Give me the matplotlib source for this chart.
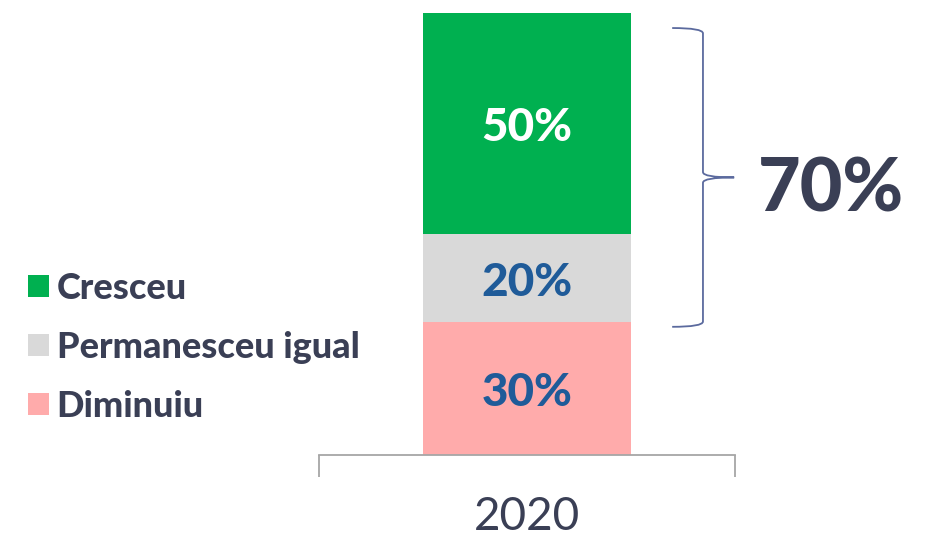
import matplotlib
matplotlib.use("Agg")
import matplotlib.pyplot as plt
from matplotlib.path import Path
from matplotlib.patches import PathPatch
import matplotlib.transforms as mtrans

categories = ["2020"]
series_names = ["Diminuiu", "Permanesceu igual", "Cresceu"]
series_values = [[30], [20], [50]]
colors = ["#ffabab", "#d9d9d9", "#00b050"]
label_colors = ["#1f5b99", "#1f5b99", "#ffffff"]
total_label = "70%"

text_dark = "#3a3f55"
plt.rcParams['font.family'] = ['Lato', 'DejaVu Sans']

fig = plt.figure(figsize=(9.25, 5.37), dpi=100)
ax = fig.add_axes([319/925, 82/537, 416/925, 442/537])

bottom = [0.0] * len(categories)
bars = []
for name, vals, c, lc in zip(series_names, series_values, colors, label_colors):
    b = ax.bar(categories, vals, bottom=bottom, width=0.5, color=c, label=name)
    bars.append(b)
    for i, v in enumerate(vals):
        ax.text(i, bottom[i] + v / 2 - 1.0, f"{v}%", ha="center", va="center",
                fontsize=33, fontweight="black", color=lc)
    bottom = [bt + v for bt, v in zip(bottom, vals)]

ax.set_xlim(-0.5, 0.5)
ax.set_ylim(0, 100)
for s in ["top", "right", "left"]:
    ax.spines[s].set_visible(False)
ax.spines["bottom"].set_color("#a6a6a6")
ax.spines["bottom"].set_linewidth(1.3)
ax.set_yticks([])
ax.set_xticks([-0.5, 0.5])
ax.set_xticklabels([])
ax.tick_params(axis="x", length=16, width=1.3, color="#a6a6a6")
ax.text(0, -14.0, categories[0], ha="center", va="center", fontsize=33,
        fontweight="normal", color=text_dark)

# brace over green + gray
trans = mtrans.blended_transform_factory(ax.transAxes, ax.transData)
y0 = series_values[0][0] - 1.0
y1 = 100 - 3.4
ym = (y0 + y1) / 2
xl, xs, xt = 0.849, 0.923, 0.998
verts = [(xl, y1), (xs, y1), (xs, y1 - 1.2), (xs, ym + 1.2), (xs, ym),
         (xt, ym), (xs, ym), (xs, ym - 1.2), (xs, y0 + 1.2), (xs, y0), (xl, y0)]
codes = [Path.MOVETO, Path.CURVE3, Path.CURVE3, Path.LINETO, Path.CURVE3, Path.CURVE3,
         Path.CURVE3, Path.CURVE3, Path.LINETO, Path.CURVE3, Path.CURVE3]
ax.add_patch(PathPatch(Path(verts, codes), fill=False, edgecolor="#5b6a9e",
                       linewidth=1.3, transform=trans, clip_on=False))
ax.text(1.055, ym - 2.8, total_label, transform=trans, ha="left", va="center",
        fontsize=53, fontweight="black", color=text_dark, clip_on=False)

handles = [bars[2], bars[1], bars[0]]
labels = [series_names[2], series_names[1], series_names[0]]
leg = fig.legend(handles, labels, loc="upper left", bbox_to_anchor=(28/925, 1 - 272/537),
                 frameon=False, prop={"size": 26, "weight": "black"},
                 handlelength=0.57, handleheight=0.57, handletextpad=0.22,
                 labelspacing=0.72, borderaxespad=0, borderpad=0)
for t in leg.get_texts():
    t.set_color(text_dark)

fig.savefig("out.png", dpi=100)
